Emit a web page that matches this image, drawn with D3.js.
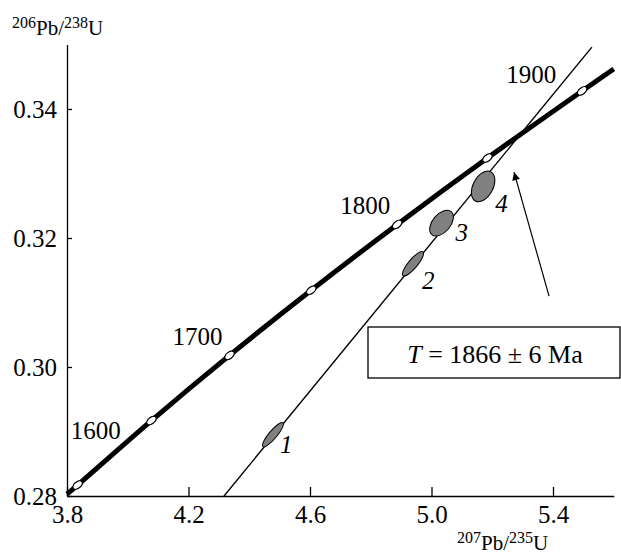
<!DOCTYPE html>
<html>
<head>
<meta charset="utf-8">
<script src="https://cdn.jsdelivr.net/npm/d3@7"></script>
<style>
  body { margin: 0; background: #fff; }
</style>
</head>
<body>
<div class="chart"></div>
<script>
// concordia nodes (207Pb/235U, 206Pb/238U), ages in Ma
const concAge = [null, 1600, 1650, 1700, 1750, 1800, 1850, 1900, null];
const concX = [3.8, 3.835, 4.078, 4.335, 4.604, 4.887, 5.184, 5.496, 5.6];
const concY = [0.2803, 0.2817, 0.2917, 0.3018, 0.3119, 0.3221, 0.3324, 0.3428, 0.3462];
const ageLabels = [1600, 1700, 1800, 1900];

// discordia line
const discX = [4.317, 5.528];
const discY = [0.28, 0.3496];

// analyses (error ellipse centres)
const pointName = ["1", "2", "3", "4"];
const pointX = [4.478, 4.939, 5.033, 5.170];
const pointY = [0.2895, 0.3160, 0.3223, 0.3280];

const xTicks = [3.8, 4.2, 4.6, 5.0, 5.4];
const yTicks = [0.28, 0.30, 0.32, 0.34];
const ageText = "T = 1866 ± 6 Ma";

const serif = "'Liberation Serif', 'DejaVu Serif', serif";
const width = 621, height = 554;
const margin = {t: 44.5, r: 7, b: 58, l: 67};

const svg = d3.select(".chart").append("svg")
  .attr("width", width)
  .attr("height", height)
  .style("font-family", serif);

const x = d3.scaleLinear().domain([3.8, 5.6]).range([margin.l, margin.l + 1.8 * 303.75]);
const y = d3.scaleLinear().domain([0.28, 0.35]).range([height - margin.b, margin.t]);

// axes
const xAxis = svg.append("g")
  .attr("transform", `translate(0,${y(0.28)})`)
  .call(d3.axisBottom(x).tickValues(xTicks).tickFormat(d3.format(".1f"))
    .tickSize(-9).tickSizeOuter(0).tickPadding(9));
const yAxis = svg.append("g")
  .attr("transform", `translate(${x(3.8)},0)`)
  .call(d3.axisLeft(y).tickValues(yTicks).tickFormat(d3.format(".2f"))
    .tickSize(-5).tickSizeOuter(0).tickPadding(10));

[xAxis, yAxis].forEach(g => {
  g.attr("font-family", serif).attr("font-size", 25);
  g.selectAll("path, line").attr("stroke", "#000").attr("stroke-width", 1.3);
  g.selectAll("text").attr("fill", "#000");
});

// axis titles
function isoTitle(sel, a, b) {
  sel.append("tspan").attr("font-size", 16).attr("baseline-shift", "7").text(a);
  sel.append("tspan").attr("font-size", 21).text("Pb/");
  sel.append("tspan").attr("font-size", 16).attr("baseline-shift", "7").text(b);
  sel.append("tspan").attr("font-size", 21).text("U");
}
svg.append("text").attr("x", 12).attr("y", 35).call(isoTitle, "206", "238");
svg.append("text").attr("x", 457).attr("y", 550).call(isoTitle, "207", "235");

// discordia
svg.append("line")
  .attr("x1", x(discX[0])).attr("y1", y(discY[0]))
  .attr("x2", x(discX[1])).attr("y2", y(discY[1]))
  .attr("stroke", "#000").attr("stroke-width", 1.4);

// concordia
const conc = concX.map((d, i) => ({x: d, y: concY[i], age: concAge[i]}));
svg.append("path")
  .datum(conc)
  .attr("fill", "none")
  .attr("stroke", "#000")
  .attr("stroke-width", 5)
  .attr("d", d3.line().x(d => x(d.x)).y(d => y(d.y)).curve(d3.curveCatmullRom));

// age markers
const markers = conc.filter(d => d.age);
svg.selectAll(".marker")
  .data(markers)
  .join("ellipse")
  .attr("class", "marker")
  .attr("rx", 5.5).attr("ry", 3.2)
  .attr("fill", "#fff").attr("stroke", "#000").attr("stroke-width", 1.2)
  .attr("transform", d => `translate(${x(d.x)},${y(d.y)}) rotate(-38)`);

const labelOffset = {1600: [18, -46], 1700: [-32, -10], 1800: [-32, -10], 1900: [-51, -8]};
svg.selectAll(".age")
  .data(markers.filter(d => ageLabels.includes(d.age)))
  .join("text")
  .attr("class", "age")
  .attr("x", d => x(d.x) + labelOffset[d.age][0])
  .attr("y", d => y(d.y) + labelOffset[d.age][1])
  .attr("text-anchor", "middle")
  .attr("font-size", 25)
  .text(d => d.age);

// error ellipses
const ellShape = [[15.5, 4, -50], [15.5, 4.5, -50], [15, 9, -50], [16.5, 10, -62]];
const labelPos = [[7, 18], [9, 25], [14, 18], [12, 26]];
const pts = pointX.map((d, i) => ({x: d, y: pointY[i], name: pointName[i]}));
svg.selectAll(".err")
  .data(pts)
  .join("ellipse")
  .attr("class", "err")
  .attr("rx", (d, i) => ellShape[i][0]).attr("ry", (d, i) => ellShape[i][1])
  .attr("fill", "#808080").attr("stroke", "#000").attr("stroke-width", 1)
  .attr("transform", (d, i) => `translate(${x(d.x)},${y(d.y)}) rotate(${ellShape[i][2]})`);
svg.selectAll(".plabel")
  .data(pts)
  .join("text")
  .attr("class", "plabel")
  .attr("x", (d, i) => x(d.x) + labelPos[i][0])
  .attr("y", (d, i) => y(d.y) + labelPos[i][1])
  .attr("font-size", 25)
  .attr("font-style", "italic")
  .text(d => d.name);

// arrow to the intercept
svg.append("defs").append("marker")
  .attr("id", "head")
  .attr("viewBox", "0 0 10 10")
  .attr("refX", 10).attr("refY", 5)
  .attr("markerWidth", 12).attr("markerHeight", 8)
  .attr("markerUnits", "userSpaceOnUse")
  .attr("orient", "auto")
  .append("path").attr("d", "M0,0 L10,5 L0,10 Z").attr("fill", "#000");
svg.append("line")
  .attr("x1", x(5.387)).attr("y1", y(0.3110))
  .attr("x2", x(5.2716)).attr("y2", y(0.3302))
  .attr("stroke", "#000").attr("stroke-width", 1.2)
  .attr("marker-end", "url(#head)");

// result box
svg.append("rect")
  .attr("x", 368).attr("y", 327).attr("width", 252).attr("height", 51)
  .attr("fill", "#fff").attr("stroke", "#000").attr("stroke-width", 1.3);
const t = svg.append("text")
  .attr("x", 495).attr("y", 363)
  .attr("text-anchor", "middle")
  .attr("font-size", 26);
t.append("tspan").attr("font-style", "italic").text(ageText.slice(0, 1));
t.append("tspan").text(ageText.slice(1));
</script>
</body>
</html>
